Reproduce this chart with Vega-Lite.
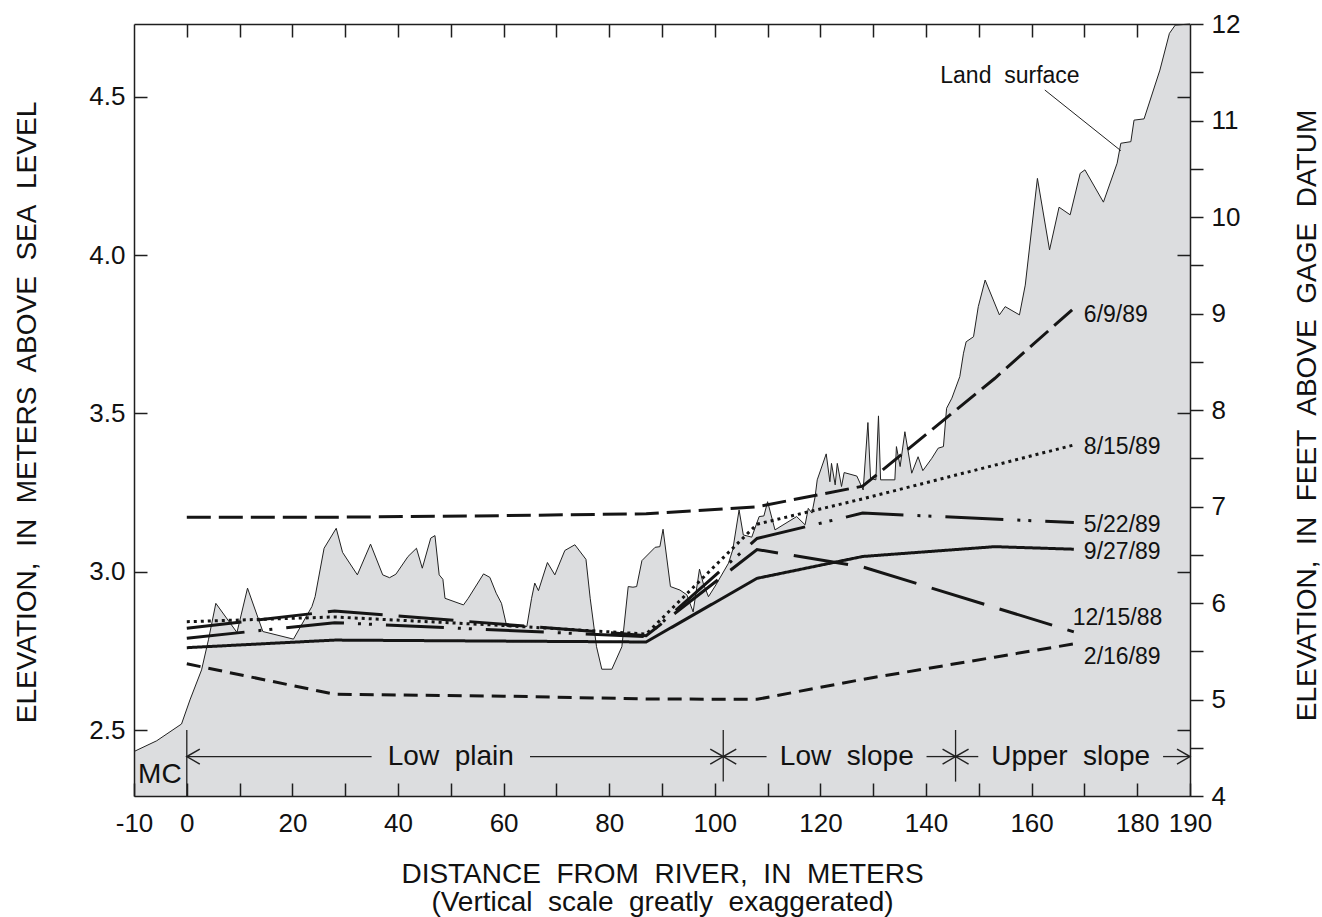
{
  "$schema": "https://vega.github.io/schema/vega-lite/v6.json",
  "width": 1056,
  "height": 772,
  "autosize": "none",
  "padding": {"left": 134, "top": 24, "right": 132, "bottom": 121},
  "background": "white",
  "config": {
    "view": {"stroke": null},
    "axis": {"grid": false, "domainColor": "#1e1e1e", "domainWidth": 1.5, "tickColor": "#1e1e1e", "tickWidth": 1.5, "labelColor": "#111111", "labelFont": "Liberation Sans", "labelFontSize": 26, "titleFont": "Liberation Sans", "titleFontSize": 28, "titleFontWeight": "normal", "titleColor": "#111111", "labelFlush": false, "labelOverlap": false, "labelBound": false}
  },
  "datasets": {
    "land": [
      {"x": -10, "y": 2.432}, {"x": -5.7, "y": 2.466}, {"x": -1.0, "y": 2.519}, {"x": 0.6, "y": 2.595}, {"x": 2.8, "y": 2.69}, {"x": 4.1, "y": 2.785}, {"x": 5.5, "y": 2.9}, {"x": 9.5, "y": 2.808}, {"x": 11.5, "y": 2.948}, {"x": 14.4, "y": 2.811}, {"x": 20.2, "y": 2.787}, {"x": 23.7, "y": 2.89}, {"x": 24.3, "y": 2.921}, {"x": 26.0, "y": 3.074}, {"x": 28.3, "y": 3.137}, {"x": 29.5, "y": 3.061}, {"x": 32.3, "y": 2.99}, {"x": 34.8, "y": 3.087}, {"x": 37.1, "y": 2.99}, {"x": 38.4, "y": 2.981}, {"x": 39.6, "y": 2.992}, {"x": 41.9, "y": 3.048}, {"x": 43.5, "y": 3.074}, {"x": 44.6, "y": 3.011}, {"x": 46.2, "y": 3.106}, {"x": 47.0, "y": 3.114}, {"x": 47.8, "y": 2.99}, {"x": 48.5, "y": 2.976}, {"x": 48.9, "y": 2.916}, {"x": 52.4, "y": 2.895}, {"x": 53.3, "y": 2.916}, {"x": 56.2, "y": 2.993}, {"x": 57.4, "y": 2.982}, {"x": 58.6, "y": 2.932}, {"x": 59.6, "y": 2.9}, {"x": 60.6, "y": 2.827}, {"x": 64.4, "y": 2.827}, {"x": 65.3, "y": 2.916}, {"x": 65.9, "y": 2.964}, {"x": 66.6, "y": 2.94}, {"x": 68.3, "y": 3.029}, {"x": 69.7, "y": 2.99}, {"x": 71.6, "y": 3.067}, {"x": 73.5, "y": 3.085}, {"x": 75.6, "y": 3.039}, {"x": 76.4, "y": 2.916}, {"x": 77.6, "y": 2.763}, {"x": 78.6, "y": 2.692}, {"x": 80.5, "y": 2.692}, {"x": 82.4, "y": 2.763}, {"x": 83.6, "y": 2.953}, {"x": 84.5, "y": 2.951}, {"x": 85.2, "y": 2.953}, {"x": 86.2, "y": 3.035}, {"x": 88.7, "y": 3.077}, {"x": 89.6, "y": 3.079}, {"x": 90.2, "y": 3.134}, {"x": 91.6, "y": 2.953}, {"x": 93.4, "y": 2.942}, {"x": 94.7, "y": 2.927}, {"x": 95.9, "y": 2.873}, {"x": 97.1, "y": 3.008}, {"x": 97.8, "y": 2.964}, {"x": 98.8, "y": 2.921}, {"x": 100.2, "y": 2.958}, {"x": 102.6, "y": 3.027}, {"x": 103.4, "y": 3.069}, {"x": 104.6, "y": 3.195}, {"x": 105.4, "y": 3.116}, {"x": 107.0, "y": 3.109}, {"x": 108.4, "y": 3.174}, {"x": 109.3, "y": 3.176}, {"x": 110.0, "y": 3.221}, {"x": 111.4, "y": 3.132}, {"x": 115.5, "y": 3.174}, {"x": 117.1, "y": 3.148}, {"x": 117.7, "y": 3.2}, {"x": 118.4, "y": 3.185}, {"x": 119.0, "y": 3.237}, {"x": 119.4, "y": 3.29}, {"x": 121.1, "y": 3.372}, {"x": 121.8, "y": 3.284}, {"x": 122.1, "y": 3.342}, {"x": 122.8, "y": 3.274}, {"x": 123.2, "y": 3.342}, {"x": 124.0, "y": 3.269}, {"x": 124.5, "y": 3.313}, {"x": 126.9, "y": 3.302}, {"x": 128.1, "y": 3.258}, {"x": 129.0, "y": 3.471}, {"x": 129.5, "y": 3.295}, {"x": 130.5, "y": 3.29}, {"x": 131.0, "y": 3.492}, {"x": 131.4, "y": 3.29}, {"x": 134.1, "y": 3.29}, {"x": 134.4, "y": 3.395}, {"x": 135.1, "y": 3.332}, {"x": 136.0, "y": 3.442}, {"x": 137.3, "y": 3.311}, {"x": 138.5, "y": 3.363}, {"x": 139.4, "y": 3.319}, {"x": 141.1, "y": 3.358}, {"x": 142.3, "y": 3.39}, {"x": 143.3, "y": 3.395}, {"x": 143.9, "y": 3.516}, {"x": 144.9, "y": 3.548}, {"x": 146.4, "y": 3.616}, {"x": 147.1, "y": 3.69}, {"x": 147.6, "y": 3.726}, {"x": 149.0, "y": 3.742}, {"x": 149.9, "y": 3.837}, {"x": 151.2, "y": 3.921}, {"x": 153.9, "y": 3.811}, {"x": 155.0, "y": 3.837}, {"x": 157.7, "y": 3.811}, {"x": 158.8, "y": 3.905}, {"x": 161.1, "y": 4.242}, {"x": 163.4, "y": 4.016}, {"x": 165.2, "y": 4.151}, {"x": 167.3, "y": 4.127}, {"x": 169.2, "y": 4.258}, {"x": 170.1, "y": 4.269}, {"x": 173.6, "y": 4.167}, {"x": 176.2, "y": 4.29}, {"x": 176.9, "y": 4.353}, {"x": 178.8, "y": 4.358}, {"x": 179.4, "y": 4.426}, {"x": 181.3, "y": 4.43}, {"x": 184.3, "y": 4.584}, {"x": 186.1, "y": 4.7}, {"x": 187.2, "y": 4.726}, {"x": 190, "y": 4.7296}
    ],
    "wt": [
      {"date": "6/9/89", "x": 0, "y": 3.172}, {"date": "6/9/89", "x": 28, "y": 3.172}, {"date": "6/9/89", "x": 60, "y": 3.177}, {"date": "6/9/89", "x": 87, "y": 3.183}, {"date": "6/9/89", "x": 108, "y": 3.205}, {"date": "6/9/89", "x": 128, "y": 3.27}, {"date": "6/9/89", "x": 153, "y": 3.61}, {"date": "6/9/89", "x": 168, "y": 3.832},
      {"date": "8/15/89", "x": 0, "y": 2.842}, {"date": "8/15/89", "x": 28, "y": 2.857}, {"date": "8/15/89", "x": 60, "y": 2.83}, {"date": "8/15/89", "x": 87, "y": 2.803}, {"date": "8/15/89", "x": 108, "y": 3.15}, {"date": "8/15/89", "x": 128, "y": 3.23}, {"date": "8/15/89", "x": 168, "y": 3.4},
      {"date": "5/22/89", "x": 0, "y": 2.79}, {"date": "5/22/89", "x": 28, "y": 2.839}, {"date": "5/22/89", "x": 87, "y": 2.795}, {"date": "5/22/89", "x": 108, "y": 3.105}, {"date": "5/22/89", "x": 128, "y": 3.185}, {"date": "5/22/89", "x": 168, "y": 3.155},
      {"date": "9/27/89", "x": 0, "y": 2.76}, {"date": "9/27/89", "x": 28, "y": 2.784}, {"date": "9/27/89", "x": 87, "y": 2.778}, {"date": "9/27/89", "x": 108, "y": 2.979}, {"date": "9/27/89", "x": 128, "y": 3.048}, {"date": "9/27/89", "x": 153, "y": 3.079}, {"date": "9/27/89", "x": 168, "y": 3.071},
      {"date": "12/15/88", "x": 0, "y": 2.821}, {"date": "12/15/88", "x": 28, "y": 2.876}, {"date": "12/15/88", "x": 87, "y": 2.798}, {"date": "12/15/88", "x": 108, "y": 3.07}, {"date": "12/15/88", "x": 128, "y": 3.015}, {"date": "12/15/88", "x": 153, "y": 2.887}, {"date": "12/15/88", "x": 168, "y": 2.81},
      {"date": "2/16/89", "x": 0, "y": 2.709}, {"date": "2/16/89", "x": 28, "y": 2.613}, {"date": "2/16/89", "x": 60, "y": 2.607}, {"date": "2/16/89", "x": 87, "y": 2.598}, {"date": "2/16/89", "x": 108, "y": 2.597}, {"date": "2/16/89", "x": 128, "y": 2.66}, {"date": "2/16/89", "x": 153, "y": 2.73}, {"date": "2/16/89", "x": 168, "y": 2.772}
    ],
    "wtlabels": [
      {"label": "6/9/89", "x": 169.9, "y": 3.7896}, {"label": "8/15/89", "x": 169.9, "y": 3.3718}, {"label": "5/22/89", "x": 169.9, "y": 3.1265}, {"label": "9/27/89", "x": 169.9, "y": 3.0393}, {"label": "12/15/88", "x": 167.8, "y": 2.8319}, {"label": "2/16/89", "x": 169.9, "y": 2.7087}
    ],
    "zones": [
      {"label": "Low\u00a0 plain", "x": 50.0, "y": 2.3898}, {"label": "Low\u00a0 slope", "x": 125.0, "y": 2.3898}, {"label": "Upper\u00a0 slope", "x": 167.4, "y": 2.3898}
    ],
    "segs": [
      {"x": 0, "x2": 35.0, "y": 2.4161}, {"x": 65.0, "x2": 101.6, "y": 2.4161}, {"x": 101.6, "x2": 109.8, "y": 2.4161}, {"x": 140.1, "x2": 145.6, "y": 2.4161}, {"x": 145.6, "x2": 149.9, "y": 2.4161}, {"x": 184.9, "x2": 190, "y": 2.4161}
    ],
    "divs": [
      {"x": 0, "y": 2.5, "y2": 2.2916}, {"x": 101.6, "y": 2.5, "y2": 2.337}, {"x": 145.6, "y": 2.5, "y2": 2.337}
    ],
    "heads": [
      {"x": 0, "y": 2.4161, "dir": "left"}, {"x": 101.6, "y": 2.4161, "dir": "right"}, {"x": 101.6, "y": 2.4161, "dir": "left"}, {"x": 145.6, "y": 2.4161, "dir": "right"}, {"x": 145.6, "y": 2.4161, "dir": "left"}, {"x": 190, "y": 2.4161, "dir": "right"}
    ]
  },
  "layer": [
    {
      "data": {"name": "land"},
      "mark": {"type": "area", "color": "#dcdddf"},
      "encoding": {
        "x": {"field": "x", "type": "quantitative", "scale": {"domain": [-10, 190], "nice": false, "zero": false},
          "axis": {"orient": "bottom", "values": [-10, 0, 10, 20, 30, 40, 50, 60, 70, 80, 90, 100, 110, 120, 130, 140, 150, 160, 170, 180, 190],
            "labelExpr": "(datum.value % 20 == 0 || datum.value == -10 || datum.value == 190) ? '' + datum.value : ''",
            "tickSize": -13, "labelPadding": 27, "domain": true, "zindex": 1,
            "title": ["DISTANCE\u00a0 FROM\u00a0 RIVER,\u00a0 IN\u00a0 METERS", "(Vertical\u00a0 scale\u00a0 greatly\u00a0 exaggerated)"],
            "titleX": 528, "titleY": 86, "titleBaseline": "alphabetic", "titleLineHeight": 28, "titleAlign": "center"}},
        "y": {"field": "y", "type": "quantitative", "scale": {"domain": [2.2916, 4.7296], "nice": false, "zero": false},
          "axis": {"orient": "left", "values": [2.5, 3, 3.5, 4, 4.5], "format": ".1f", "tickSize": -13, "labelPadding": 22, "domain": true, "zindex": 1,
            "title": "ELEVATION,\u00a0 IN\u00a0 METERS\u00a0 ABOVE\u00a0 SEA\u00a0 LEVEL", "titleX": -107, "titleY": 388, "titleAngle": 270, "titleAlign": "center", "titleBaseline": "middle"}},
        "y2": {"datum": 2.2916}
      }
    },
    {
      "data": {"name": "land"},
      "mark": {"type": "line", "color": "#222222", "strokeWidth": 1},
      "encoding": {"x": {"field": "x", "type": "quantitative", "axis": null}, "y": {"field": "y", "type": "quantitative", "axis": null, "scale": {"domain": [2.2916, 4.7296], "nice": false, "zero": false}}}
    },
    {
      "data": {"name": "wt"},
      "mark": {"type": "line", "color": "#151515", "strokeWidth": 3, "strokeCap": "butt"},
      "encoding": {
        "x": {"field": "x", "type": "quantitative", "axis": null},
        "y": {"field": "y", "type": "quantitative", "axis": null, "scale": {"domain": [2.2916, 4.7296], "nice": false, "zero": false}},
        "strokeDash": {"field": "date", "type": "nominal", "legend": null,
          "scale": {"domain": ["6/9/89", "8/15/89", "5/22/89", "9/27/89", "12/15/88", "2/16/89"], "range": [[24, 8], [3, 4], [58, 14, 3, 8, 3, 14], [1, 0], [55, 16], [14, 8]]}}
      }
    },
    {
      "data": {"name": "wtlabels"},
      "mark": {"type": "text", "align": "left", "baseline": "alphabetic", "fontSize": 23, "font": "Liberation Sans", "color": "#111111"},
      "encoding": {"x": {"field": "x", "type": "quantitative", "axis": null}, "y": {"field": "y", "type": "quantitative", "axis": null, "scale": {"domain": [2.2916, 4.7296], "nice": false, "zero": false}}, "text": {"field": "label"}}
    },
    {
      "data": {"values": [{"label": "Land\u00a0 surface", "x": 155.9, "y": 4.5443}]},
      "mark": {"type": "text", "align": "center", "baseline": "alphabetic", "fontSize": 23, "font": "Liberation Sans", "color": "#111111"},
      "encoding": {"x": {"field": "x", "type": "quantitative", "axis": null}, "y": {"field": "y", "type": "quantitative", "axis": null, "scale": {"domain": [2.2916, 4.7296], "nice": false, "zero": false}}, "text": {"field": "label"}}
    },
    {
      "data": {"values": [{"x": 162.5, "y": 4.5212, "x2": 176.9, "y2": 4.3295}]},
      "mark": {"type": "rule", "color": "#222222", "strokeWidth": 1},
      "encoding": {"x": {"field": "x", "type": "quantitative", "axis": null}, "y": {"field": "y", "type": "quantitative", "axis": null, "scale": {"domain": [2.2916, 4.7296], "nice": false, "zero": false}}, "x2": {"field": "x2"}, "y2": {"field": "y2"}}
    },
    {
      "data": {"name": "segs"},
      "mark": {"type": "rule", "color": "#222222", "strokeWidth": 1.3},
      "encoding": {"x": {"field": "x", "type": "quantitative", "axis": null}, "x2": {"field": "x2"}, "y": {"field": "y", "type": "quantitative", "axis": null, "scale": {"domain": [2.2916, 4.7296], "nice": false, "zero": false}}}
    },
    {
      "data": {"name": "divs"},
      "mark": {"type": "rule", "color": "#222222", "strokeWidth": 1.3},
      "encoding": {"x": {"field": "x", "type": "quantitative", "axis": null}, "y": {"field": "y", "type": "quantitative", "axis": null, "scale": {"domain": [2.2916, 4.7296], "nice": false, "zero": false}}, "y2": {"field": "y2"}}
    },
    {
      "data": {"name": "heads"},
      "mark": {"type": "point", "filled": false, "stroke": "#222222", "strokeWidth": 1.5, "size": 169, "opacity": 1},
      "encoding": {
        "x": {"field": "x", "type": "quantitative", "axis": null},
        "y": {"field": "y", "type": "quantitative", "axis": null, "scale": {"domain": [2.2916, 4.7296], "nice": false, "zero": false}},
        "shape": {"field": "dir", "type": "nominal", "legend": null, "scale": {"domain": ["left", "right"], "range": ["M2,-1.15L0,0L2,1.15", "M-2,-1.15L0,0L-2,1.15"]}}
      }
    },
    {
      "data": {"name": "zones"},
      "mark": {"type": "text", "align": "center", "baseline": "alphabetic", "fontSize": 28, "font": "Liberation Sans", "color": "#111111"},
      "encoding": {"x": {"field": "x", "type": "quantitative", "axis": null}, "y": {"field": "y", "type": "quantitative", "axis": null, "scale": {"domain": [2.2916, 4.7296], "nice": false, "zero": false}}, "text": {"field": "label"}}
    },
    {
      "data": {"values": [{"label": "MC", "x": -5.1, "y": 2.332}]},
      "mark": {"type": "text", "align": "center", "baseline": "alphabetic", "fontSize": 28, "font": "Liberation Sans", "color": "#111111"},
      "encoding": {"x": {"field": "x", "type": "quantitative", "axis": null}, "y": {"field": "y", "type": "quantitative", "axis": null, "scale": {"domain": [2.2916, 4.7296], "nice": false, "zero": false}}, "text": {"field": "label"}}
    },
    {
      "data": {"values": [{"ft": 4}, {"ft": 12}]},
      "mark": {"type": "point", "opacity": 0},
      "encoding": {
        "y": {"field": "ft", "type": "quantitative", "scale": {"domain": [4, 12], "nice": false, "zero": false},
          "axis": {"orient": "right", "values": [4, 4.5, 5, 5.5, 6, 6.5, 7, 7.5, 8, 8.5, 9, 9.5, 10, 10.5, 11, 11.5, 12],
            "labelExpr": "datum.value % 1 == 0 ? '' + datum.value : ''", "tickSize": 13, "labelPadding": 8, "domain": true, "zindex": 1,
            "title": "ELEVATION,\u00a0 IN\u00a0 FEET\u00a0 ABOVE\u00a0 GAGE\u00a0 DATUM", "titleX": 117, "titleY": 391, "titleAngle": 270, "titleAlign": "center", "titleBaseline": "middle"}}
      }
    },
    {
      "data": {"values": [{"x": 0, "m": 3}]},
      "mark": {"type": "point", "opacity": 0},
      "encoding": {
        "x": {"field": "x", "type": "quantitative",
          "axis": {"orient": "top", "values": [0, 10, 20, 30, 40, 50, 60, 70, 80, 90, 100, 110, 120, 130, 140, 150, 160, 170, 180], "labels": false, "tickSize": -13, "domain": true, "title": null, "zindex": 1}},
        "y": {"field": "m", "type": "quantitative", "scale": {"domain": [2.2916, 4.7296], "nice": false, "zero": false},
          "axis": {"orient": "right", "values": [2.5, 3, 3.5, 4, 4.5], "labels": false, "tickSize": -13, "domain": false, "title": null, "zindex": 1}}
      }
    }
  ],
  "resolve": {"scale": {"y": "independent"}}
}
